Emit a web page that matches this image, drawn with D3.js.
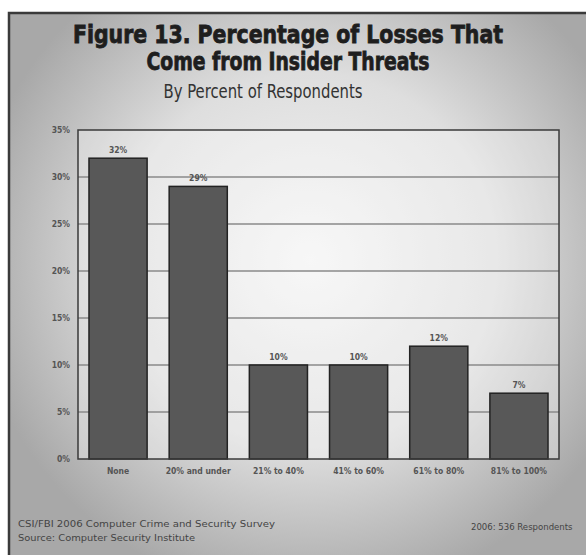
<!DOCTYPE html>
<html><head><meta charset="utf-8">
<script src="https://cdn.jsdelivr.net/npm/d3@7/dist/d3.min.js"></script>
<style>html,body{margin:0;padding:0;background:#fff;}svg{display:block;}</style>
</head><body>
<script>
const categories = ["None", "20% and under", "21% to 40%", "41% to 60%", "61% to 80%", "81% to 100%"];
const values = [32, 29, 10, 10, 12, 7];
const tickValues = [0, 5, 10, 15, 20, 25, 30, 35];
const titleLines = ["Figure 13. Percentage of Losses That", "Come from Insider Threats"];
const subtitle = "By Percent of Respondents";
const footerLeft = ["CSI/FBI 2006 Computer Crime and Security Survey", "Source: Computer Security Institute"];
const footerRight = "2006: 536 Respondents";

const W = 586, H = 555;
const svg = d3.select("body").append("svg").attr("width", W).attr("height", H);
const defs = svg.append("defs");
const rg = defs.append("radialGradient").attr("id", "bg")
  .attr("gradientUnits", "userSpaceOnUse").attr("cx", 310).attr("cy", 260).attr("r", 340);
rg.append("stop").attr("offset", "0%").attr("stop-color", "#f4f4f4");
rg.append("stop").attr("offset", "55%").attr("stop-color", "#dedede");
rg.append("stop").attr("offset", "100%").attr("stop-color", "#a8a8a8");

svg.append("rect").attr("x", 8).attr("y", 12).attr("width", W).attr("height", H)
  .attr("fill", "url(#bg)");
svg.append("path").attr("d", `M9,${H} V13 H${W}`).attr("fill", "none")
  .attr("stroke", "#3a3a3a").attr("stroke-width", 2.5);

const m = {left: 78, right: 559, top: 130, bottom: 459};
const x = d3.scaleBand().domain(categories).range([m.left, m.right]).paddingInner(0.275).paddingOuter(0.137);
const y = d3.scaleLinear().domain([0, 35]).range([m.bottom, m.top]);

svg.append("rect").attr("x", m.left).attr("y", m.top).attr("width", m.right - m.left).attr("height", m.bottom - m.top)
  .attr("fill", "rgba(255,255,255,0.3)");

// gridlines
svg.append("g").selectAll("line").data(tickValues.filter(d => d > 0 && d < 35)).join("line")
  .attr("x1", m.left).attr("x2", m.right).attr("y1", d => y(d)).attr("y2", d => y(d))
  .attr("stroke", "#8a8a8a").attr("stroke-width", 1.5);

// y axis labels
const yAxis = d3.axisLeft(y).tickValues(tickValues).tickFormat(d => d + "%").tickSize(0).tickPadding(8);
const yg = svg.append("g").attr("transform", `translate(${m.left},0)`).call(yAxis);
yg.select(".domain").remove();
yg.selectAll("text").attr("font-family", "'DejaVu Sans Condensed'").attr("font-size", 8.5)
  .attr("font-weight", "bold").attr("fill", "#555");

// bars
svg.append("g").selectAll("rect").data(values).join("rect")
  .attr("x", (d, i) => x(categories[i])).attr("width", x.bandwidth())
  .attr("y", d => y(d)).attr("height", d => y(0) - y(d))
  .attr("fill", "#585858").attr("stroke", "#222").attr("stroke-width", 1.5);

// value labels
svg.append("g").selectAll("text").data(values).join("text")
  .attr("x", (d, i) => x(categories[i]) + x.bandwidth() / 2).attr("y", d => y(d) - 5)
  .attr("text-anchor", "middle").attr("font-family", "'DejaVu Sans Condensed'")
  .attr("font-size", 8.5).attr("font-weight", "bold").attr("fill", "#555").text(d => d + "%");

// plot border
svg.append("rect").attr("x", m.left).attr("y", m.top).attr("width", m.right - m.left).attr("height", m.bottom - m.top)
  .attr("fill", "none").attr("stroke", "#3a3a3a").attr("stroke-width", 1.5);

// x axis labels
const xAxis = d3.axisBottom(x).tickSize(0).tickPadding(9);
const xg = svg.append("g").attr("transform", `translate(0,${m.bottom})`).call(xAxis);
xg.select(".domain").remove();
xg.selectAll("text").attr("font-family", "'DejaVu Sans Condensed'").attr("font-size", 8.5)
  .attr("font-weight", "bold").attr("fill", "#555");

// titles
const tl = [{t: titleLines[0], y: 43, w: 430}, {t: titleLines[1], y: 70, w: 283}];
svg.append("g").selectAll("text").data(tl).join("text")
  .attr("x", 288).attr("y", d => d.y).attr("text-anchor", "middle")
  .attr("font-family", "'DejaVu Sans Condensed'").attr("font-weight", "bold").attr("font-size", 25)
  .attr("fill", "#1e1e1e").attr("stroke", "#1e1e1e").attr("stroke-width", 0.8)
  .attr("textLength", d => d.w).attr("lengthAdjust", "spacingAndGlyphs")
  .text(d => d.t);
svg.append("text").attr("x", 263).attr("y", 98).attr("text-anchor", "middle")
  .attr("font-family", "'DejaVu Sans Condensed'").attr("font-size", 20).attr("fill", "#333")
  .attr("textLength", 199).attr("lengthAdjust", "spacingAndGlyphs").text(subtitle);

// footer
svg.append("g").selectAll("text").data(footerLeft).join("text")
  .attr("x", 18).attr("y", (d, i) => 527 + i * 14)
  .attr("font-family", "'DejaVu Sans Condensed'").attr("font-size", 9.5)
  .attr("fill", "#444").attr("textLength", (d, i) => i === 0 ? 257 : 177)
  .attr("lengthAdjust", "spacingAndGlyphs").text(d => d);
svg.append("text").attr("x", 471).attr("y", 530)
  .attr("font-family", "'DejaVu Sans Condensed'").attr("font-size", 9.5)
  .attr("fill", "#444").text(footerRight);
</script>
</body></html>
